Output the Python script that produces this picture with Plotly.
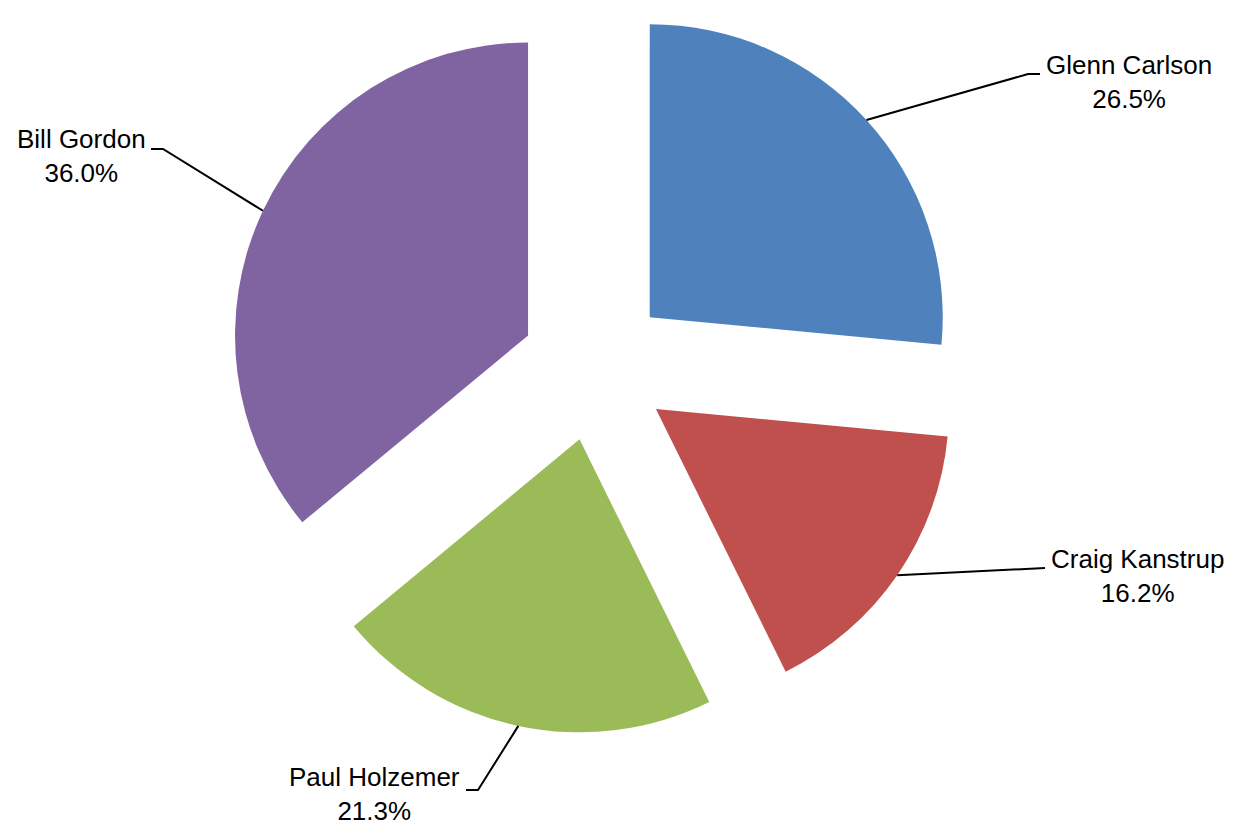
import math
import plotly.graph_objects as go

# ---- data ----
names = ["Glenn Carlson", "Craig Kanstrup", "Paul Holzemer", "Bill Gordon"]
shares = [26.5, 16.2, 21.3, 36.0]
colors = ["#4F81BD", "#C0504D", "#9BBB59", "#8064A2"]

# ---- layout constants ----
W, H = 1235, 829
ML, MR, MT, MB = 0, 45, 0, 95
PULL = 0.2525
FONT = "Liberation Sans, Arial, sans-serif"
FSIZE = 26
# label block centres and leader elbows/ends (pixels)
label_pos = [(1129, 82), (1137, 576), (374, 794), (81, 156)]
elbow_pos = [(1028, 74), (1045, 568), (478, 790), (163, 149)]
end_pos = [(1040, 74), (1045, 568), (466, 790), (151, 149)]

pw, ph = W - ML - MR, H - MT - MB


def to_paper(px, py):
    return (px - ML) / pw, 1 - (py - MT) / ph


# geometry used by plotly's pie
cx = ML + pw / 2
cy = MT + ph / 2
r = min(pw, ph) / 2 / (1 + PULL)
total = sum(shares)

fig = go.Figure(go.Pie(
    labels=names, values=shares, sort=False, direction="clockwise",
    rotation=0, pull=[PULL] * len(shares),
    marker=dict(colors=colors, line=dict(width=0)),
    textinfo="none", hoverinfo="label+percent", showlegend=False,
))

shapes, annotations = [], []
cum = 0.0
for i, (n, v) in enumerate(zip(names, shares)):
    mid = (cum + v / 2) / total * 2 * math.pi
    cum += v
    ax = cx + (1 + PULL) * r * math.sin(mid)
    ay = cy - (1 + PULL) * r * math.cos(mid)
    pts = [to_paper(ax, ay), to_paper(*elbow_pos[i]), to_paper(*end_pos[i])]
    path = "M {},{} L {},{} L {},{}".format(*[c for p in pts for c in p])
    shapes.append(dict(type="path", xref="paper", yref="paper", path=path,
                       line=dict(color="black", width=2)))
    tx, ty = to_paper(*label_pos[i])
    annotations.append(dict(
        x=tx, y=ty, xref="paper", yref="paper", showarrow=False,
        text=f"{n}<br>{v / total * 100:.1f}%", align="center",
        xanchor="center", yanchor="middle",
        font=dict(family=FONT, size=FSIZE, color="black"),
    ))

fig.update_layout(
    width=W, height=H, margin=dict(l=ML, r=MR, t=MT, b=MB),
    paper_bgcolor="white", plot_bgcolor="white",
    shapes=shapes, annotations=annotations,
)
fig.write_html("out.html",
               config={"displayModeBar": False},
               post_script="document.body.style.margin='0';"
                           "document.body.style.overflow='hidden';")
